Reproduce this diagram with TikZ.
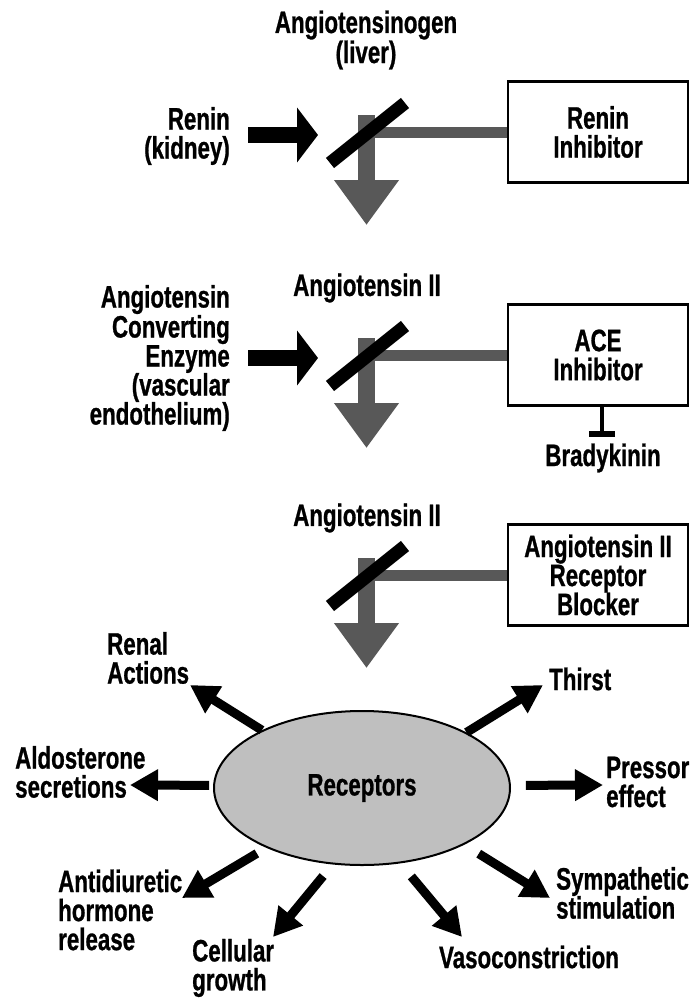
\documentclass[tikz,border=0pt]{standalone}
\usepackage{fontspec}
\setmainfont{Liberation Sans}[FakeStretch=0.72, BoldFeatures={FakeBold=0.8}]
\usetikzlibrary{arrows.meta,shapes.geometric}
\definecolor{flowgray}{RGB}{88,88,88}
\tikzset{
  lbl/.style={font=\fontsize{31}{29}\selectfont\bfseries, align=center, inner sep=0pt},
  drug/.style={lbl, draw, line width=2.5pt, minimum width=180pt, minimum height=101pt},
  flow/.style={draw=flowgray, line width=17pt, -{Triangle[length=45pt,width=62pt]}},
  link/.style={draw=flowgray, line width=11pt},
  enzyme/.style={line width=16pt, -{Triangle[length=21pt,width=54pt]}},
  blockbar/.style={line width=13pt},
  effect/.style={line width=9pt, -{Triangle[length=28pt,width=30pt]}},
  inhib/.style={line width=4pt, -{Bar[width=26pt,line width=6pt]}},
}
\begin{document}
\begin{tikzpicture}[x=1pt,y=-1pt]
\useasboundingbox (0,0) rectangle (690,998);

% Cascade
\node[lbl] (agen) at (366,40) {Angiotensinogen\\(liver)};
\node[lbl] (ang1) at (367,288) {Angiotensin II};
\node[lbl] (ang2) at (367,518) {Angiotensin II};

\foreach \i/\dy/\txt in {1/0/{Renin\\Inhibitor}, 2/223/{ACE\\Inhibitor}, 3/443/{Angiotensin II\\Receptor\\Blocker}} {
  \coordinate (top\i) at (366.5,115+\dy);
  \coordinate (tip\i) at (366.5,225+\dy);
  \coordinate (cutA\i) at (330,163+\dy);
  \coordinate (cutB\i) at (405,103+\dy);
  \node[drug] (box\i) at (598,132+\dy) {\txt};
  \draw[link] (top\i |- box\i.west) -- (box\i.west);
  \draw[flow] (top\i) -- (tip\i);
  \draw[blockbar] (cutA\i) -- (cutB\i);
}

% Enzymes
\node[lbl, align=right, anchor=east] (renin) at (230,136) {Renin\\(kidney)};
\coordinate (hit1) at (318,135);
\draw[enzyme, shorten <=18pt] (renin.east |- hit1) -- (hit1);

\node[lbl, align=right, anchor=east] (ace) at (230,358) {Angiotensin\\Converting\\Enzyme\\(vascular\\endothelium)};
\coordinate (hit2) at (318,358);
\draw[enzyme, shorten <=18pt] (ace.east |- hit2) -- (hit2);

% Bradykinin
\node[lbl] (brady) at (603,458) {Bradykinin};
\coordinate (bk) at (602,437);
\draw[inhib] (box2.south -| bk) -- (bk);

% Receptors
\node[lbl, ellipse, draw, line width=2pt, fill=gray!50, minimum width=296pt, minimum height=154pt] (rec) at (362,788) {Receptors};

\node[lbl, align=left, anchor=west] (renal) at (107,658) {Renal\\Actions};
\node[lbl, align=left, anchor=west] (aldo) at (15,772) {Aldosterone\\secretions};
\node[lbl, anchor=west] (thirst) at (549,679) {Thirst};
\node[lbl, align=left, anchor=west] (press) at (606,782) {Pressor\\effect};
\node[lbl, align=left, anchor=west] (adh) at (58,910) {Antidiuretic\\hormone\\release};
\node[lbl, align=left, anchor=west] (cell) at (192,968) {Cellular\\growth};
\node[lbl] (vaso) at (529,957) {Vasoconstriction};
\node[lbl, align=left, anchor=west] (symp) at (556,893) {Sympathetic\\stimulation};

\coordinate (toRenal) at (190,685);
\coordinate (toThirst) at (543,685);
\coordinate (toAldo) at (130,785);
\coordinate (toPress) at (603,785);
\coordinate (toADH) at (182,898);
\coordinate (toCell) at (273,937);
\coordinate (toVaso) at (462,937);
\coordinate (toSymp) at (550,898);

\foreach \ang/\gap/\dest in {150/0/Renal, 28/0/Thirst, 179/4/Aldo, 1/15/Press, 212/11/ADH, 249/15/Cell, 297/17/Vaso, 331/17/Symp} {
  \draw[effect, shorten <=\gap pt] (rec.\ang) -- (to\dest);
}
\end{tikzpicture}
\end{document}
